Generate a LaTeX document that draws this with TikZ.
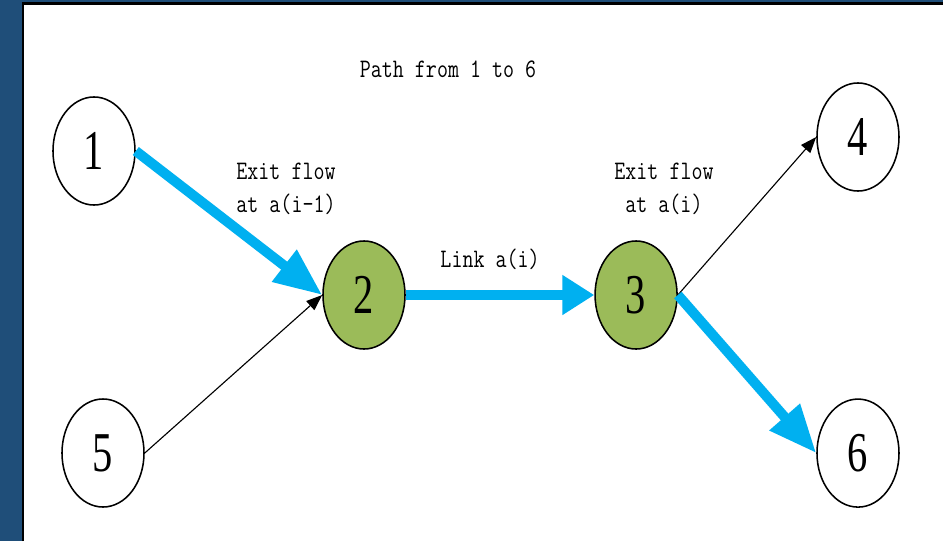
\documentclass[tikz,border=0pt]{standalone}
\usepackage{graphicx}
\usepackage{xcolor}
\usepackage{fontspec}
\usetikzlibrary{shapes.geometric,arrows.meta}
\newfontfamily\numfont{Liberation Serif}
\definecolor{framebg}{HTML}{1F4E79}
\definecolor{pathblue}{HTML}{00B0F0}
\definecolor{hopgreen}{HTML}{9BBB59}
\newcommand{\squeeze}[1]{\scalebox{0.8}[1]{#1}}
\newcommand{\bignum}[1]{\scalebox{0.72}[1]{\numfont\fontsize{40}{40}\selectfont #1}}
\tikzstyle{plain state}=[
        draw = black,
        line width = 1.1pt,
        fill = white,
        ellipse,
        inner sep = 0pt,
        minimum width = 2.05cm,
        minimum height = 2.7cm
    ]
\tikzstyle{hop state}=[plain state, fill = hopgreen]
\tikzstyle{flow}=[line width = 0.25cm, pathblue, -{Triangle[length=1.2cm,width=0.95cm]}]
\tikzstyle{side}=[line width = 0.8pt, -{Triangle[length=0.4cm,width=0.3cm]}]
\tikzstyle{note}=[text = black, font = \ttfamily\fontsize{19}{23.4}\selectfont, align = center, inner sep = 0pt]

\begin{document}
\begin{tikzpicture}[x=0.025cm, y=-0.025cm, node distance={6.8cm}]
        \useasboundingbox (0,0) rectangle (943,541);
        % frame
        \fill[framebg] (0,0) rectangle (943,541);
        \fill[white] (23,3.5) rectangle (943,541);
        \draw[line width = 1.5pt] (23,541) -- (23,3.5) -- (943,3.5);

        \node[hop state] (2) at (364,295) {\bignum{2}};
        \node[hop state] (3) [right of = 2] {\bignum{3}};
        \node[plain state] (1) at (94,151) {\bignum{1}};
        \node[plain state] (5) at (103,453) {\bignum{5}};
        \node[plain state] (4) at (858,137) {\bignum{4}};
        \node[plain state] (6) [below of = 4, node distance = 7.9cm] {\bignum{6}};

        \node[note] (title) at (448,69) {\squeeze{Path from 1 to 6}};
        \node[note] (exit in) at (286,189) {\squeeze{Exit flow}\\\squeeze{at a(i-1)}};
        \node[note] (exit out) at (664,189) {\squeeze{Exit flow}\\\squeeze{at a(i)}};

        \draw[side] (5.east) -- (2.west);
        \draw[side] (3.east) -- (4.west);
        \draw[flow] (1.east) -- (2.west);
        \draw[flow, -{Triangle[length=0.8cm,width=0.95cm]}] (2) -- (3)
            node [midway, above = 0.5cm, xshift = -0.25cm, note] (link) {\squeeze{Link a(i)}};
        \draw[flow] (3.east) -- (6.west);
    \end{tikzpicture}
\end{document}
